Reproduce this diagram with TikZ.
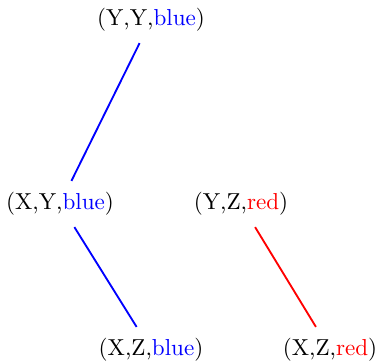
\documentclass[tikz,border=0pt]{standalone}
\begin{document}
\begin{tikzpicture}[x=0.4329pt,y=-0.4329pt,
  lbl/.style={inner sep=0pt, minimum height=9pt, outer sep=5pt},
  bl/.style={blue, thick},
  rd/.style={red, thick}]
\useasboundingbox (0,0) rectangle (376,363);
\node[lbl] (yyb) at (151,20) {(Y,Y,\textcolor{blue}{blue})};
\node[lbl] (xyb) at (60,204) {(X,Y,\textcolor{blue}{blue})};
\node[lbl] (yzr) at (241,204) {(Y,Z,\textcolor{red}{red})};
\node[lbl] (xzb) at (151,350) {(X,Z,\textcolor{blue}{blue})};
\node[lbl] (xzr) at (330,350) {(X,Z,\textcolor{red}{red})};
\draw[bl] (yyb) -- (xyb);
\draw[bl] (xyb) -- (xzb);
\draw[rd] (yzr) -- (xzr);
\end{tikzpicture}
\end{document}
